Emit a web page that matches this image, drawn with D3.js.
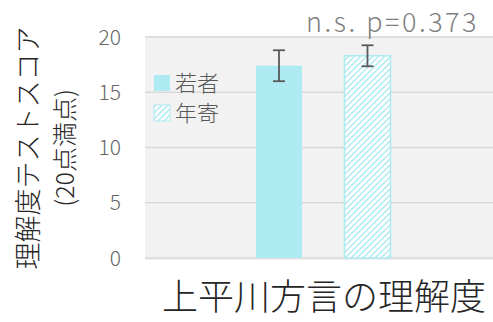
<!DOCTYPE html>
<html>
<head>
<meta charset="utf-8">
<script src="https://cdn.jsdelivr.net/npm/d3@7"></script>
<style>
  body { margin: 0; background: #fff; }
  text { font-family: "Noto Sans CJK JP", "Noto Sans", sans-serif; font-weight: 300; }
</style>
</head>
<body>
<div id="wrapper"></div>
<script>
// DATA
const groups = ["若者", "年寄"]
const means = [17.4, 18.3]
const errors = [1.4, 0.95]
const yTicks = [0, 5, 10, 15, 20]
const titleText = "n.s. p=0.373"
const xLabel = "上平川方言の理解度"
const yLabel = ["理解度テストスコア", "(20点満点)"]

const width = 493
const height = 322
const plot = { left: 145, right: 493, top: 37, bottom: 258 }
const barColor = "#aeeaf1"

const svg = d3.select("#wrapper").append("svg")
  .attr("width", width)
  .attr("height", height)

// hatched pattern for 年寄
const defs = svg.append("defs")
const pat = defs.append("pattern")
  .attr("id", "hatch")
  .attr("patternUnits", "userSpaceOnUse")
  .attr("width", 6).attr("height", 6)
pat.append("rect").attr("width", 6).attr("height", 6).attr("fill", barColor)
pat.append("path")
  .attr("d", "M-1,7 L7,-1 M-2,2 L2,-2 M4,8 L8,4")
  .attr("stroke", "#fff").attr("stroke-width", 2.8)

// scales
const yScale = d3.scaleLinear()
  .domain([0, 20])
  .range([plot.bottom, plot.top])

const xScale = d3.scaleBand()
  .domain(groups)
  .range([211.75, 434.75])
  .paddingInner(0.48)
  .paddingOuter(0.5)

// plot background
svg.append("rect")
  .attr("x", plot.left).attr("y", plot.top - 1)
  .attr("width", plot.right - plot.left)
  .attr("height", plot.bottom - plot.top + 3)
  .attr("fill", "#f2f2f2")

// gridlines
svg.append("g").selectAll("line")
  .data(yTicks)
  .join("line")
  .attr("x1", plot.left).attr("x2", plot.right)
  .attr("y1", d => yScale(d)).attr("y2", d => yScale(d))
  .attr("stroke", "#d9d9d9")
  .attr("stroke-width", 1.5)

// y tick labels
svg.append("g").selectAll("text")
  .data(yTicks)
  .join("text")
  .attr("x", 121)
  .attr("y", d => yScale(d))
  .attr("dy", "0.36em")
  .attr("text-anchor", "end")
  .attr("fill", "#666")
  .style("font-size", "21px")
  .text(d => d)

// bars
svg.append("g").selectAll("rect")
  .data(groups)
  .join("rect")
  .attr("x", d => xScale(d))
  .attr("y", (d, i) => yScale(means[i]))
  .attr("width", xScale.bandwidth())
  .attr("height", (d, i) => yScale(0) - yScale(means[i]))
  .attr("fill", (d, i) => i === 0 ? barColor : "url(#hatch)")
  .attr("stroke", (d, i) => i === 0 ? "none" : barColor)
  .attr("stroke-width", 1.5)

// error bars
const err = svg.append("g")
  .attr("stroke", "#595959")
  .attr("stroke-width", 1.8)
groups.forEach((g, i) => {
  const cx = xScale(g) + xScale.bandwidth() / 2
  const y1 = yScale(means[i] + errors[i])
  const y2 = yScale(means[i] - errors[i])
  err.append("line").attr("x1", cx).attr("x2", cx).attr("y1", y1).attr("y2", y2)
  err.append("line").attr("x1", cx - 6).attr("x2", cx + 6).attr("y1", y1).attr("y2", y1)
  err.append("line").attr("x1", cx - 6).attr("x2", cx + 6).attr("y1", y2).attr("y2", y2)
})

// legend
const legend = svg.append("g")
groups.forEach((g, i) => {
  const ly = 83 + i * 30
  legend.append("rect")
    .attr("x", 154).attr("y", ly - 8)
    .attr("width", 16).attr("height", 16)
    .attr("fill", i === 0 ? barColor : "url(#hatch)")
    .attr("stroke", i === 0 ? "none" : barColor)
  legend.append("text")
    .attr("x", 175).attr("y", ly)
    .attr("dy", "0.36em")
    .attr("fill", "#595959")
    .style("font-size", "22px")
    .text(g)
})

// significance label
svg.append("text")
  .attr("x", 479).attr("y", 32)
  .attr("text-anchor", "end")
  .attr("fill", "#7f7f7f")
  .style("font-size", "27px")
  .style("letter-spacing", "2.5px")
  .text(titleText)

// x axis label
svg.append("text")
  .attr("x", 324).attr("y", 310)
  .attr("text-anchor", "middle")
  .attr("fill", "#262626")
  .style("font-size", "36px")
  .text(xLabel)

// y axis label
yLabel.forEach((t, i) => {
  svg.append("text")
    .attr("transform", `translate(${28 + i * 37}, 148) rotate(-90)`)
    .attr("text-anchor", "middle")
    .attr("dy", "0.36em")
    .attr("fill", "#262626")
    .style("font-size", i === 0 ? "27px" : "25px")
    .text(t)
})
</script>
</body>
</html>
